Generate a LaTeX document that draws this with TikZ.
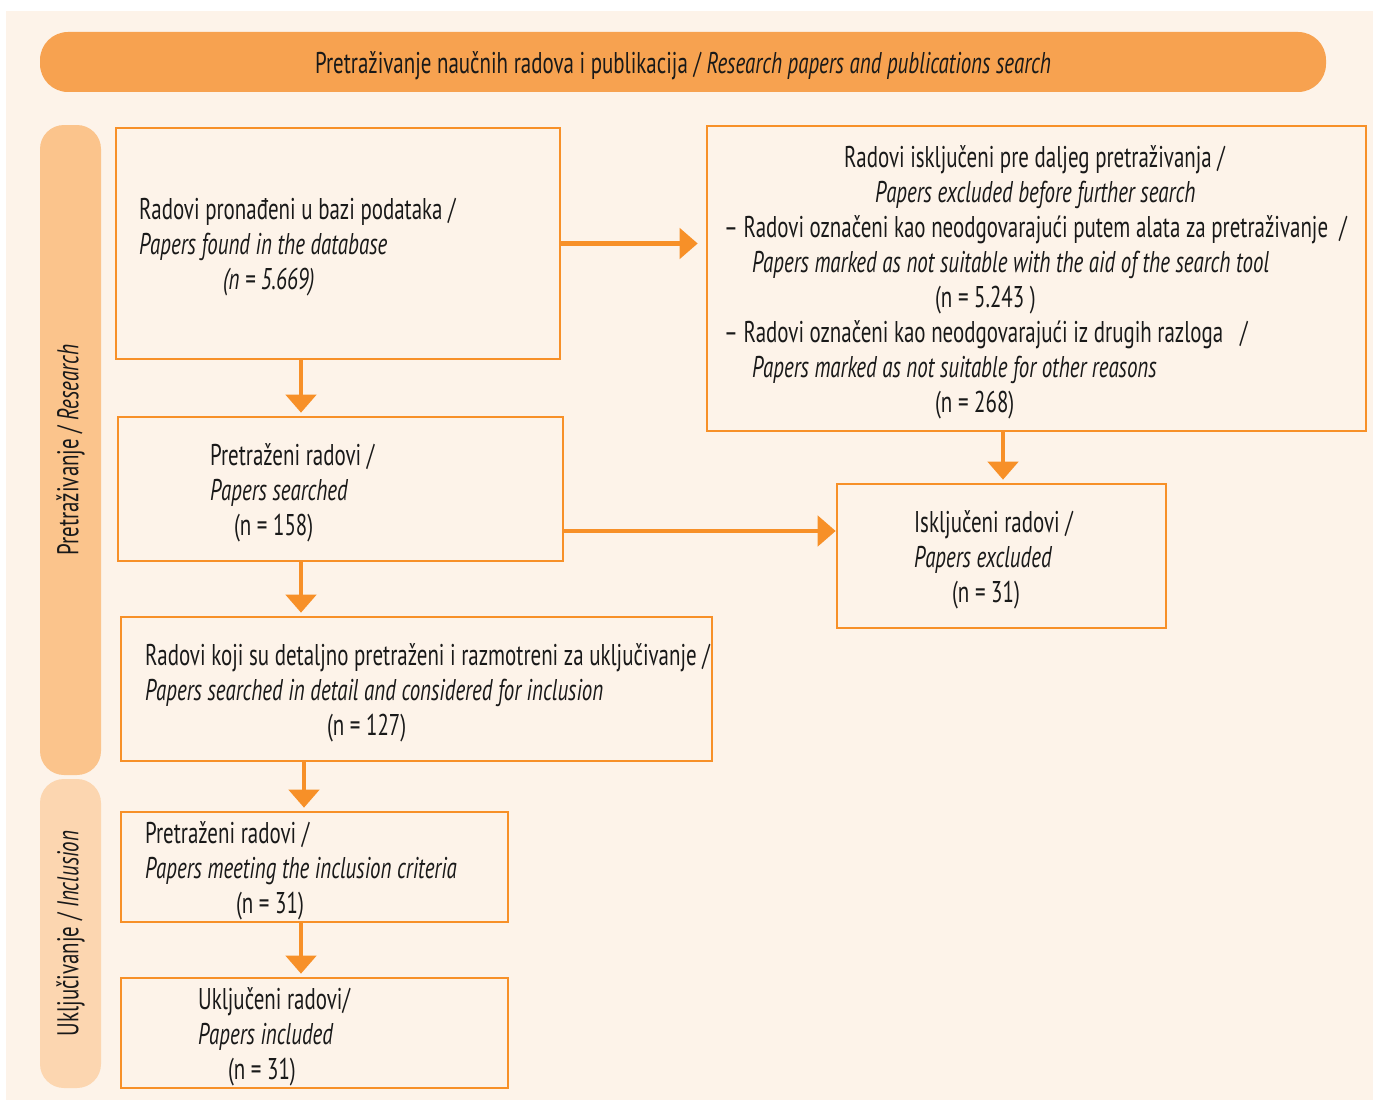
\documentclass[tikz,border=0pt]{standalone}
\usepackage{fontspec}
\setmainfont{PT Sans}[FakeStretch=0.698]
\usetikzlibrary{arrows.meta,positioning}
\definecolor{cream}{RGB}{253,243,233}
\definecolor{barorange}{RGB}{247,162,80}
\definecolor{tabresearch}{RGB}{251,196,140}
\definecolor{tabinclusion}{RGB}{252,214,176}
\definecolor{lineorange}{RGB}{247,144,40}
\tikzstyle{paperbox}=[draw=lineorange,line width=1.3pt,fill=cream,inner sep=0pt]
\tikzstyle{boxtext}=[anchor=west,align=left,inner sep=0pt,yshift=-2pt,text=black!90,font=\fontsize{15}{17.5}\selectfont]
\tikzstyle{phasetab}=[rounded corners=12pt,inner sep=0pt,text=black!90,font=\fontsize{15}{17.5}\selectfont]
\tikzstyle{edge}=[draw=lineorange,line width=2.2pt,-{Triangle[width=15pt,length=9pt]},shorten >=1.5pt]

\begin{document}
\begin{tikzpicture}[x=0.5pt,y=-0.5pt]
   \useasboundingbox (0,0) rectangle (1379,1102);
   \fill[cream] (6,11) rectangle (1373,1100);

   % header and phase tabs
   \node[phasetab,fill=barorange,rounded corners=14pt,minimum width=643pt,minimum height=30pt,
         text height=14pt,text depth=2pt] (head) at (683,62)
      {Pretraživanje naučnih radova i publikacija / \textit{Research papers and publications search}};
   \node[phasetab,fill=tabresearch,rotate=90,minimum width=325pt,minimum height=30.5pt] (research) at (70.5,450)
      {Pretraživanje / \textit{Research}};
   \node[phasetab,fill=tabinclusion,rotate=90,minimum width=154.5pt,minimum height=30.5pt] (inclusion) at (70.5,933.5)
      {Uključivanje / \textit{Inclusion}};

   % boxes
   \node[paperbox,minimum width=222pt,minimum height=115.5pt] (b1) at (338,243.5) {};
   \node[paperbox,minimum width=329.5pt,minimum height=152.5pt] (b2) at (1036.5,278.5) {};
   \node[paperbox,minimum width=222.5pt,minimum height=72pt] (b3) at (340.5,489) {};
   \node[paperbox,minimum width=164.5pt,minimum height=72pt] (b4) at (1001.5,556) {};
   \node[paperbox,minimum width=295.5pt,minimum height=72pt] (b5) at (416.5,689) {};
   \node[paperbox,minimum width=193.5pt,minimum height=55pt] (b6) at (314.5,867) {};
   \node[paperbox,minimum width=193.5pt,minimum height=55pt] (b7) at (314.5,1033) {};

   % box texts
   \node[boxtext] (t1) at ([xshift=12pt]b1.west)
      {Radovi pronađeni u bazi podataka /\\ \textit{Papers found in the database}\\ \hspace*{42pt}\textit{(n = 5.669)}};
   \node[boxtext] (t2) at ([xshift=9pt]b2.west)
      {\hspace*{60pt}Radovi isključeni pre daljeg pretraživanja /\\
       \hspace*{75.5pt}\textit{Papers excluded before further search}\\
       – Radovi označeni kao neodgovarajući putem alata za pretraživanje~~/\\
       \hspace*{14pt}\textit{Papers marked as not suitable with the aid of the search tool}\\
       \hspace*{105.5pt}(n = 5.243 )\\
       – Radovi označeni kao neodgovarajući iz drugih razloga~~~/\\
       \hspace*{14pt}\textit{Papers marked as not suitable for other reasons}\\
       \hspace*{105.5pt}(n = 268)};
   \node[boxtext] (t3) at ([xshift=46.5pt]b3.west)
      {Pretraženi radovi /\\ \textit{Papers searched}\\ \hspace*{12pt}(n = 158)};
   \node[boxtext] (t4) at ([xshift=39pt]b4.west)
      {Isključeni radovi /\\ \textit{Papers excluded}\\ \hspace*{19pt}(n = 31)};
   \node[boxtext] (t5) at ([xshift=12.5pt]b5.west)
      {Radovi koji su detaljno pretraženi i razmotreni za uključivanje /\\
       \textit{Papers searched in detail and considered for inclusion}\\ \hspace*{91pt}(n = 127)};
   \node[boxtext] (t6) at ([xshift=12.5pt]b6.west)
      {Pretraženi radovi /\\ \textit{Papers meeting the inclusion criteria}\\ \hspace*{45.5pt}(n = 31)};
   \node[boxtext] (t7) at ([xshift=39pt]b7.west)
      {Uključeni radovi/\\ \textit{Papers included}\\ \hspace*{15pt}(n = 31)};

   % connectors
   \coordinate (xleft) at (301,0);
   \coordinate (xmid) at (304,0);
   \coordinate (xright) at (1003,0);
   \coordinate (ylow) at (0,531);
   \foreach \source/ \dest/ \col in {b1/b3/xleft,b3/b5/xleft,b5/b6/xmid,b6/b7/xleft,b2/b4/xright}
      \draw[edge] (\source.south -| \col) -- (\dest.north -| \col);
   \draw[edge,shorten >=4pt] (b1.east) -- (b2.west |- b1.east);
   \draw[edge,shorten >=0pt] (b3.east |- ylow) -- (b4.west |- ylow);
\end{tikzpicture}
\end{document}
